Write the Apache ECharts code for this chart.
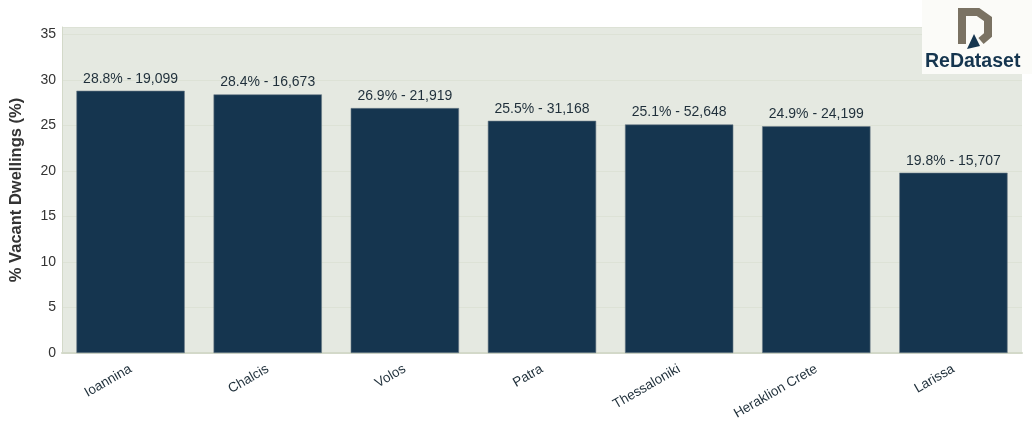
<!DOCTYPE html>
<html><head><meta charset="utf-8">
<script src="https://cdn.jsdelivr.net/npm/echarts@6/dist/echarts.min.js"></script>
<style>html,body{margin:0;padding:0;background:#fff}#c{width:1032px;height:438px}</style>
</head><body><div id="c"></div>
<script>
const cities = ["Ioannina","Chalcis","Volos","Patra","Thessaloniki","Heraklion Crete","Larissa"];
const vacantPct = [28.8, 28.4, 26.9, 25.5, 25.1, 24.9, 19.8];
const vacantCount = [19099, 16673, 21919, 31168, 52648, 24199, 15707];
const yTitle = "% Vacant Dwellings (%)";

const chart = echarts.init(document.getElementById('c'), null, {renderer:'canvas'});
chart.setOption({
  animation:false,
  backgroundColor:'#ffffff',
  grid:{left:59,right:10,top:27,bottom:85,containLabel:false,show:true,backgroundColor:'#e5e9e1',borderWidth:0},
  xAxis:{type:'category',data:cities,
    axisLine:{show:true,lineStyle:{color:'#d3d9c9',width:2}},
    axisTick:{show:false},
    axisLabel:{rotate:30,interval:0,color:'#1f2f3a',fontSize:13.5,fontFamily:'Liberation Sans, Arial, sans-serif',margin:15}},
  yAxis:{type:'value',min:0,max:35.8,interval:5,
    name:yTitle,nameLocation:'middle',nameGap:37,
    nameTextStyle:{fontSize:16.5,fontWeight:'bold',color:'#333',fontFamily:'Liberation Sans, Arial, sans-serif'},
    axisLine:{show:true,lineStyle:{color:'#d3d9c9',width:1}},
    axisTick:{show:false},
    axisLabel:{color:'#333',fontSize:14,fontFamily:'Liberation Sans, Arial, sans-serif',showMaxLabel:false,margin:6},
    splitLine:{lineStyle:{color:'#dde2d6',width:1}}},
  series:[{type:'bar',data:vacantPct,barCategoryGap:'21%',
    itemStyle:{color:'#15354f',borderColor:'#6b7c88',borderWidth:0.6},
    label:{show:true,position:'top',distance:5,color:'#1f2f3a',fontSize:14,fontFamily:'Liberation Sans, Arial, sans-serif',
      formatter:p=>p.value.toFixed(1)+'% - '+vacantCount[p.dataIndex].toLocaleString('en-US')}}],
  graphic:[
    {type:'rect',shape:{x:922,y:0,width:110,height:74},style:{fill:'#fbfbf8'},z:10},
    {type:'polyline',shape:{points:[[962,44],[962,12],[978,12],[988,19],[988,35],[981,41]]},style:{stroke:'#7a7263',lineWidth:8,fill:null},z:11},
    {type:'polygon',shape:{points:[[974,34],[967,49],[980,46]]},style:{fill:'#15354f'},z:11},
    {type:'text',left:925,top:52,style:{text:'ReDataset',fill:'#15354f',font:'bold 19.5px Liberation Sans, Arial, sans-serif'},z:11}
  ]
});
</script></body></html>
